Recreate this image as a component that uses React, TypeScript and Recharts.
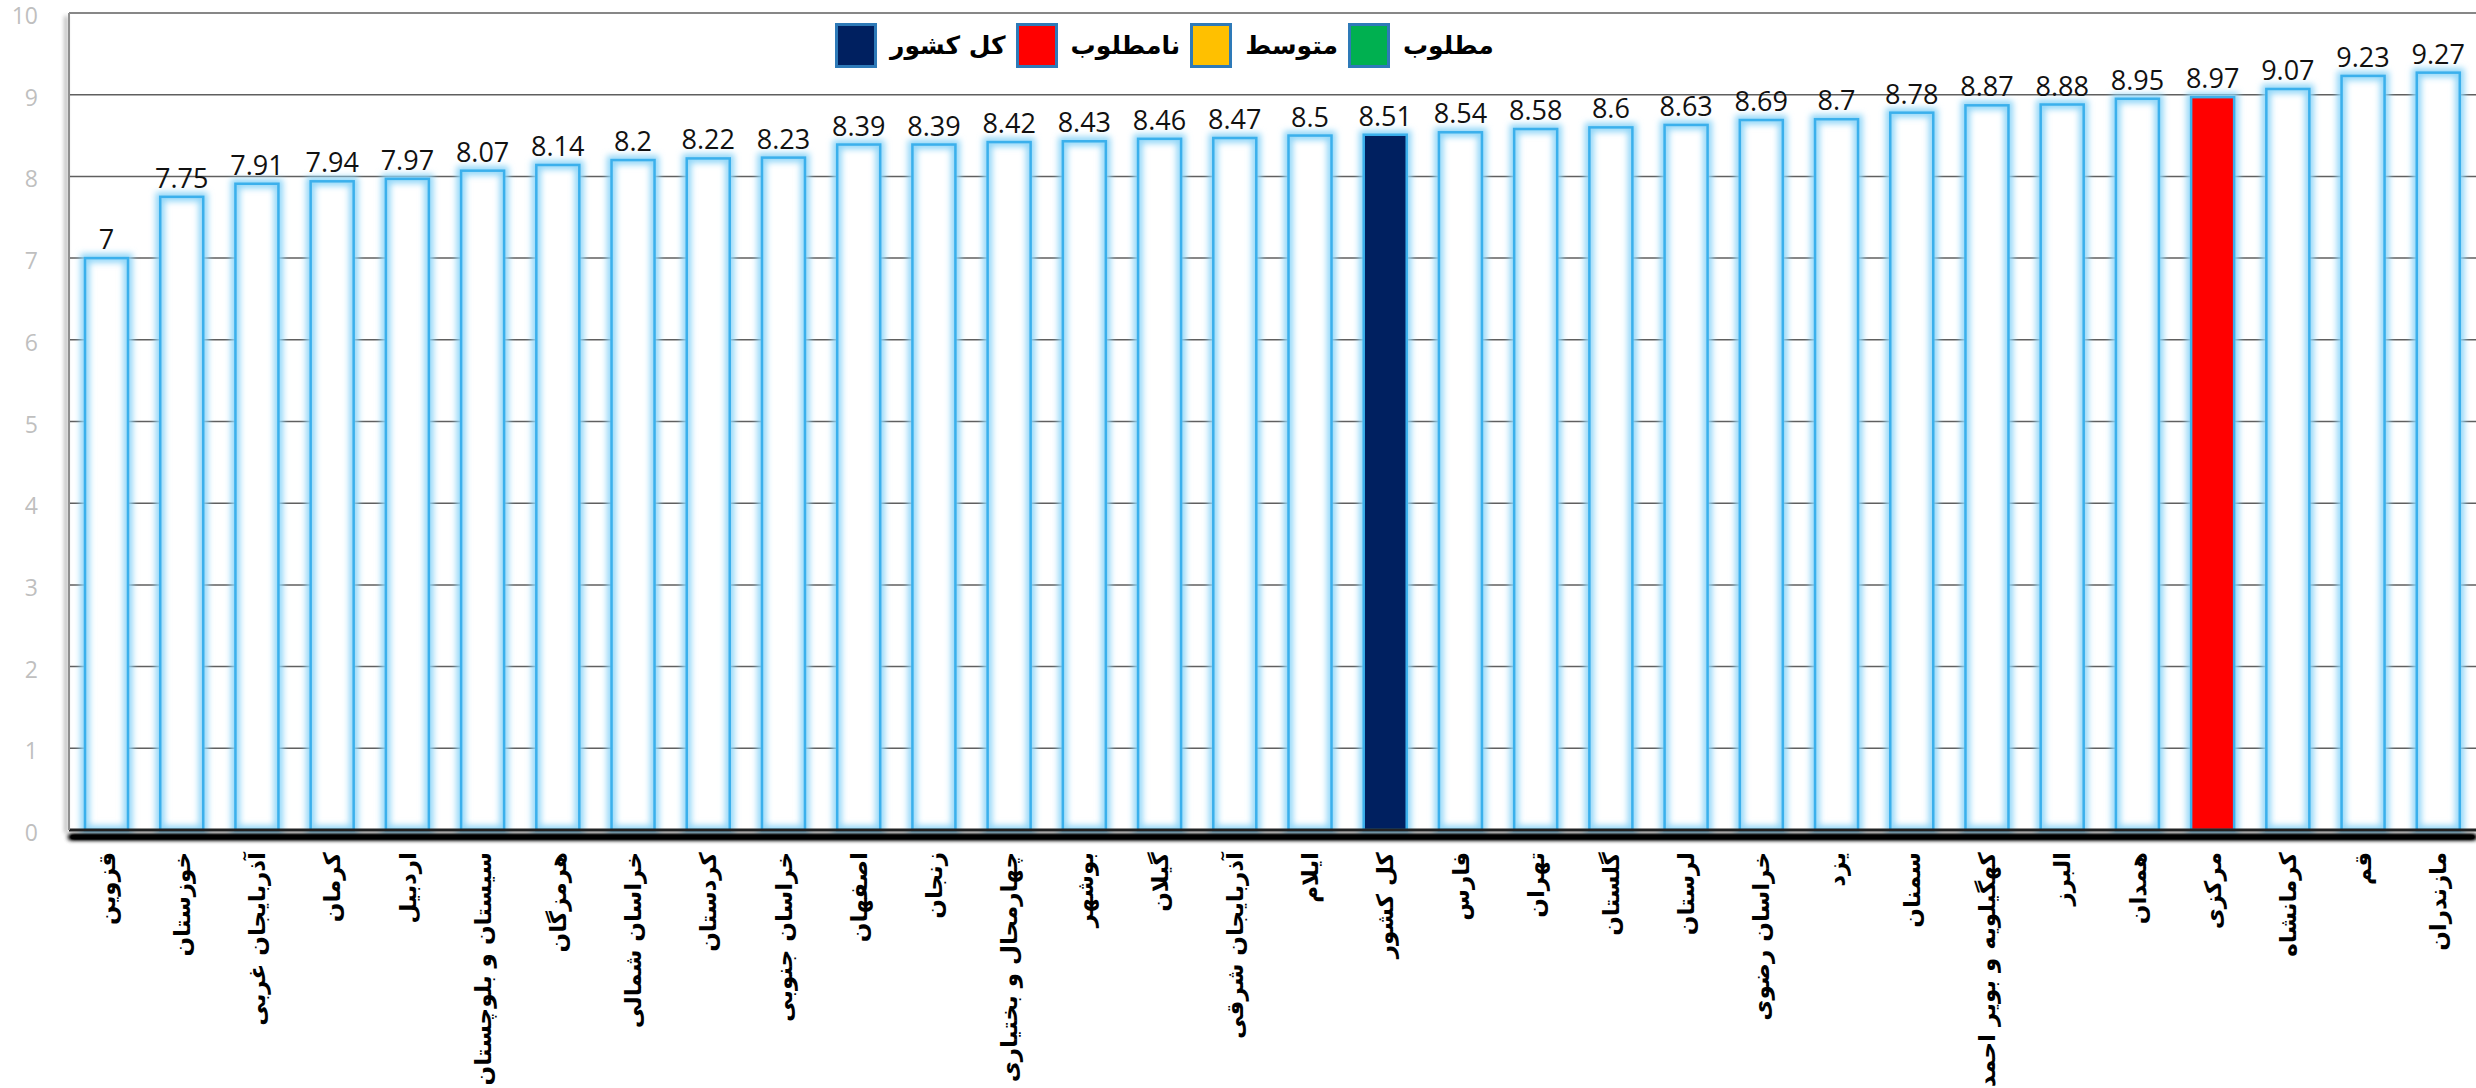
import { BarChart, Bar, XAxis, YAxis, CartesianGrid, LabelList } from 'recharts';

const provinces = [
  'قزوین', 'خوزستان', 'آذربایجان غربی', 'کرمان', 'اردبیل', 'سیستان و بلوچستان', 'هرمزگان', 'خراسان شمالی',
  'کردستان', 'خراسان جنوبی', 'اصفهان', 'زنجان', 'چهارمحال و بختیاری', 'بوشهر', 'گیلان', 'آذربایجان شرقی',
  'ایلام', 'کل کشور', 'فارس', 'تهران', 'گلستان', 'لرستان', 'خراسان رضوی', 'یزد',
  'سمنان', 'کهگیلویه و بویر احمد', 'البرز', 'همدان', 'مرکزی', 'کرمانشاه', 'قم', 'مازندران',
];

const scores = [
  7, 7.75, 7.91, 7.94, 7.97, 8.07, 8.14, 8.2,
  8.22, 8.23, 8.39, 8.39, 8.42, 8.43, 8.46, 8.47,
  8.5, 8.51, 8.54, 8.58, 8.6, 8.63, 8.69, 8.7,
  8.78, 8.87, 8.88, 8.95, 8.97, 9.07, 9.23, 9.27,
];

const yTicks = [0, 1, 2, 3, 4, 5, 6, 7, 8, 9, 10];

// legend, left to right as it appears
const legendNames = ['کل کشور', 'نامطلوب', 'متوسط', 'مطلوب'];
const legendColors = ['#002060', '#ff0000', '#ffc000', '#00b050'];

// provinces drawn in a legend colour, everything else is an outlined white bar
const flagged: Record<string, string> = {
  'کل کشور': 'کل کشور',
  'مرکزی': 'نامطلوب',
};

const data = provinces.map((name, i) => ({ name, score: scores[i] }));

function colorFor(name: string) {
  const key = flagged[name];
  if (!key) return null;
  return legendColors[legendNames.indexOf(key)];
}

const GlowBar = (props: any) => {
  const { x, y, width, height, payload } = props;
  if (!height || height <= 0) return null;
  const solid = colorFor(payload.name);
  const glow = (
    <rect x={x} y={y} width={width} height={height} fill="none" stroke="#8fd6f8" strokeWidth={9} filter="url(#barGlow)" />
  );
  return (
    <g>
      {solid ? glow : null}
      <rect x={x} y={y} width={width} height={height} fill={solid || '#ffffff'} />
      {solid ? null : glow}
      <rect x={x} y={y} width={width} height={height} fill="none" stroke="#3bb0ec" strokeWidth={2.5} />
    </g>
  );
};

const ProvinceTick = (props: any) => {
  const { x, y, payload } = props;
  return (
    <g transform={`translate(${x},${y})`}>
      <text
        transform="rotate(-90)"
        x={-22}
        y={0}
        dy="0.35em"
        textAnchor="end"
        fill="#000"
        fontFamily="DejaVu Sans"
        fontWeight="bold"
        fontSize={23}
      >
        {payload.value}
      </text>
    </g>
  );
};

const ScoreTick = (props: any) => {
  const { x, y, payload } = props;
  return (
    <text x={x} y={y + 3} dy="0.35em" textAnchor="end" fill="#bfbfbf" fontSize={23} fontFamily="Open Sans">
      {payload.value}
    </text>
  );
};

function ChartLegend() {
  return (
    <div
      style={{
        position: 'absolute',
        left: 835,
        top: 23,
        display: 'flex',
        alignItems: 'center',
        fontFamily: 'DejaVu Sans',
        fontWeight: 'bold',
        fontSize: 25,
        color: '#000',
      }}
    >
      {legendNames.map((name, i) => (
        <div key={name} style={{ display: 'flex', alignItems: 'center', marginRight: 10 }}>
          <div
            style={{
              width: 36,
              height: 39,
              background: legendColors[i],
              border: '3px solid #2e7ab8',
              marginRight: 13,
            }}
          />
          <span dir="rtl" style={{ lineHeight: '45px' }}>{name}</span>
        </div>
      ))}
    </div>
  );
}

export default function App() {
  return (
    <div style={{ position: 'absolute', left: 0, top: 0, width: 2476, height: 1088, background: '#fff' }}>
      <BarChart width={2476} height={1088} data={data} margin={{ top: 13, right: 0, left: 0, bottom: 0 }}>
        <defs>
          <filter id="barGlow" x="-50%" y="-10%" width="200%" height="120%">
            <feGaussianBlur stdDeviation="3" />
          </filter>
          <filter id="baseShadow" filterUnits="userSpaceOnUse" x="0" y="800" width="2476" height="80">
            <feGaussianBlur in="SourceAlpha" stdDeviation="2.5" result="blur" />
            <feOffset in="blur" dy="7" result="off" />
            <feComponentTransfer in="off" result="dark">
              <feFuncA type="linear" slope="3" />
            </feComponentTransfer>
            <feMerge>
              <feMergeNode in="dark" />
              <feMergeNode in="SourceGraphic" />
            </feMerge>
          </filter>
          <filter id="sideShadow" filterUnits="userSpaceOnUse" x="40" y="0" width="60" height="860">
            <feGaussianBlur in="SourceAlpha" stdDeviation="2" result="blur" />
            <feOffset in="blur" dx="-3" dy="3" result="off" />
            <feComponentTransfer in="off" result="soft">
              <feFuncA type="linear" slope="0.5" />
            </feComponentTransfer>
            <feMerge>
              <feMergeNode in="soft" />
              <feMergeNode in="SourceGraphic" />
            </feMerge>
          </filter>
        </defs>
        <CartesianGrid vertical={false} stroke="#5f5f5f" strokeWidth={1.5} />
        <XAxis
          dataKey="name"
          interval={0}
          height={258}
          tickLine={false}
          tickSize={0}
          tickMargin={0}
          axisLine={{ stroke: '#222', strokeWidth: 3, filter: 'url(#baseShadow)' }}
          tick={<ProvinceTick />}
        />
        <YAxis
          domain={[0, 10]}
          ticks={yTicks}
          width={69}
          tickLine={false}
          tickSize={0}
          tickMargin={31}
          axisLine={{ stroke: '#8f8f8f', strokeWidth: 2, filter: 'url(#sideShadow)' }}
          tick={<ScoreTick />}
        />
        <Bar dataKey="score" barSize={43} shape={<GlowBar />} isAnimationActive={false}>
          <LabelList
            dataKey="score"
            position="top"
            offset={9}
            fill="#111"
            fontSize={27}
            fontFamily="Open Sans"
          />
        </Bar>
      </BarChart>
      <ChartLegend />
    </div>
  );
}
